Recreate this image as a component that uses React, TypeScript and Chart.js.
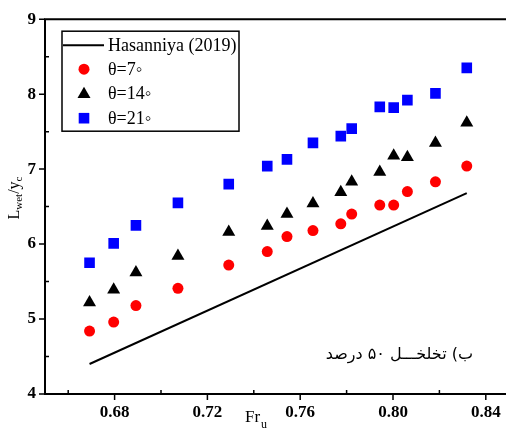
import React, { useEffect, useRef } from "react";
import { Chart, registerables } from "chart.js";

Chart.register(...registerables);

const frValues = [0.6692, 0.6796, 0.6892, 0.7073, 0.7292, 0.7458, 0.7543, 0.7655, 0.7775, 0.7822, 0.7943, 0.8003, 0.8062, 0.8183, 0.8318];
const theta7 = [4.84, 4.96, 5.18, 5.41, 5.72, 5.9, 6.1, 6.18, 6.27, 6.4, 6.52, 6.52, 6.7, 6.83, 7.04];
const theta14 = [5.22, 5.39, 5.62, 5.84, 6.16, 6.24, 6.4, 6.54, 6.69, 6.83, 6.96, 7.18, 7.16, 7.35, 7.62];
const theta21 = [5.75, 6.01, 6.25, 6.55, 6.8, 7.04, 7.13, 7.35, 7.44, 7.54, 7.83, 7.82, 7.92, 8.01, 8.35];
const hasanniyaX = [0.6692, 0.8318];
const hasanniyaY = [4.4, 6.68];
const xTickLabels = [0.68, 0.72, 0.76, 0.8, 0.84];
const xMinorTicks = [0.66, 0.7, 0.74, 0.78, 0.82];
const yTickLabels = [4, 5, 6, 7, 8, 9];
const yMinorTicks = [4.5, 5.5, 6.5, 7.5, 8.5];
const seriesNames = ["Hasanniya (2019)", "θ=7◦", "θ=14◦", "θ=21◦"];
const annotationText = "ب) تخلخـــل ۵۰ درصد";

const SERIF = "'Liberation Serif', 'Times New Roman', serif";
const RED = "#ff0000";
const BLUE = "#0000ff";
const BLACK = "#000000";

function drawMarker(ctx: CanvasRenderingContext2D, style: string, x: number, y: number, r: number, color: string) {
  ctx.save();
  ctx.fillStyle = color;
  ctx.beginPath();
  if (style === "circle") {
    ctx.arc(x, y, r, 0, Math.PI * 2);
  } else if (style === "triangle") {
    let rad = 0;
    const step = (Math.PI * 2) / 3;
    ctx.moveTo(x + Math.sin(rad) * r, y - Math.cos(rad) * r);
    rad += step;
    ctx.lineTo(x + Math.sin(rad) * r, y - Math.cos(rad) * r);
    rad += step;
    ctx.lineTo(x + Math.sin(rad) * r, y - Math.cos(rad) * r);
    ctx.closePath();
  } else {
    const s = r * Math.SQRT1_2;
    ctx.rect(x - s, y - s, 2 * s, 2 * s);
  }
  ctx.fill();
  ctx.restore();
}

const decorPlugin = {
  id: "decor",
  afterDraw(chart: any) {
    const ctx: CanvasRenderingContext2D = chart.ctx;
    const { left, right, top, bottom } = chart.chartArea;
    const xs = chart.scales.x;
    const ys = chart.scales.y;
    ctx.save();
    ctx.strokeStyle = BLACK;
    ctx.lineWidth = 2;
    ctx.lineCap = "butt";
    // axis lines
    ctx.beginPath();
    ctx.moveTo(left, top);
    ctx.lineTo(left, bottom);
    ctx.moveTo(left - 1, bottom);
    ctx.lineTo(right, bottom);
    ctx.moveTo(left - 1, top);
    ctx.lineTo(right, top);
    ctx.stroke();
    // ticks
    ctx.lineWidth = 1.5;
    ctx.beginPath();
    yTickLabels.forEach((v) => {
      const py = ys.getPixelForValue(v);
      ctx.moveTo(left - 6, py);
      ctx.lineTo(left, py);
    });
    yMinorTicks.forEach((v) => {
      const py = ys.getPixelForValue(v);
      ctx.moveTo(left, py);
      ctx.lineTo(left + 4, py);
    });
    xTickLabels.forEach((v) => {
      const px = xs.getPixelForValue(v);
      ctx.moveTo(px, bottom);
      ctx.lineTo(px, bottom + 6);
    });
    xMinorTicks.forEach((v) => {
      const px = xs.getPixelForValue(v);
      ctx.moveTo(px, bottom);
      ctx.lineTo(px, bottom - 4);
    });
    ctx.stroke();

    // legend
    const bx = left + 17;
    const by = top + 12;
    const bw = 177;
    const bh = 100;
    ctx.fillStyle = "#fff";
    ctx.fillRect(bx, by, bw, bh);
    ctx.lineWidth = 1.5;
    ctx.strokeRect(bx, by, bw, bh);
    const rows = [by + 14, by + 38, by + 62, by + 87];
    ctx.lineWidth = 2;
    ctx.beginPath();
    ctx.moveTo(bx + 1, rows[0]);
    ctx.lineTo(bx + 42, rows[0]);
    ctx.stroke();
    drawMarker(ctx, "circle", bx + 22, rows[1], 5.5, RED);
    drawMarker(ctx, "triangle", bx + 22, rows[2] + 1, 7.5, BLACK);
    drawMarker(ctx, "rect", bx + 22, rows[3], 7.5, BLUE);
    ctx.fillStyle = BLACK;
    ctx.font = `18px ${SERIF}`;
    ctx.textAlign = "left";
    ctx.textBaseline = "middle";
    seriesNames.forEach((n, i) => {
      ctx.fillText(n, bx + 46, rows[i] + 1);
    });

    // x title: Fr_u
    ctx.textBaseline = "alphabetic";
    ctx.textAlign = "left";
    ctx.font = `17px ${SERIF}`;
    ctx.fillText("Fr", 245, 422);
    const frW = ctx.measureText("Fr").width;
    ctx.font = `12px ${SERIF}`;
    ctx.fillText("u", 245 + frW + 1, 428);

    // y title: L_wet / y_c rotated
    ctx.save();
    ctx.translate(19, 198);
    ctx.rotate(-Math.PI / 2);
    const segs = [
      { t: "L", sub: false },
      { t: "wet", sub: true },
      { t: "/y", sub: false },
      { t: "c", sub: true },
    ];
    let total = 0;
    segs.forEach((s) => {
      ctx.font = s.sub ? `11px ${SERIF}` : `16px ${SERIF}`;
      total += ctx.measureText(s.t).width;
    });
    let cx = -total / 2;
    segs.forEach((s) => {
      ctx.font = s.sub ? `11px ${SERIF}` : `16px ${SERIF}`;
      ctx.fillText(s.t, cx, s.sub ? 3 : 0);
      cx += ctx.measureText(s.t).width;
    });
    ctx.restore();

    // annotation
    ctx.font = "16px 'DejaVu Sans', sans-serif";
    ctx.direction = "rtl";
    ctx.textAlign = "right";
    ctx.textBaseline = "alphabetic";
    ctx.fillText(annotationText, 473, 359);
    ctx.restore();
  },
};

export default function App() {
  const ref = useRef<HTMLCanvasElement | null>(null);
  useEffect(() => {
    if (!ref.current) return;
    const pts = (ys: number[]) => frValues.map((x, i) => ({ x, y: ys[i] }));
    const chart = new Chart(ref.current, {
      type: "scatter",
      data: {
        datasets: [
          {
            type: "line",
            label: seriesNames[0],
            data: hasanniyaX.map((x, i) => ({ x, y: hasanniyaY[i] })),
            borderColor: BLACK,
            borderWidth: 2,
            pointRadius: 0,
            fill: false,
          } as any,
          {
            label: seriesNames[1],
            data: pts(theta7),
            pointStyle: "circle",
            pointRadius: 5.5,
            backgroundColor: RED,
            borderWidth: 0,
          },
          {
            label: seriesNames[2],
            data: pts(theta14),
            pointStyle: "triangle",
            pointRadius: 7.5,
            backgroundColor: BLACK,
            borderWidth: 0,
          },
          {
            label: seriesNames[3],
            data: pts(theta21),
            pointStyle: "rect",
            pointRadius: 7.5,
            backgroundColor: BLUE,
            borderWidth: 0,
          },
        ],
      },
      options: {
        responsive: false,
        animation: false,
        layout: { padding: { top: 16, right: 11, left: 0, bottom: 0 } },
        plugins: { legend: { display: false }, tooltip: { enabled: false } },
        scales: {
          x: {
            type: "linear",
            min: 0.65,
            max: 0.85,
            afterFit: (s: any) => {
              s.height = 34;
            },
            afterBuildTicks: (s: any) => {
              s.ticks = xTickLabels.map((v) => ({ value: v }));
            },
            ticks: {
              font: { family: SERIF, size: 17, weight: "bold" },
              color: BLACK,
              padding: 8,
              maxRotation: 0,
              autoSkip: false,
              callback: (v: any) => Number(v).toFixed(2),
            },
            grid: { display: false, drawTicks: false },
            border: { display: false },
          },
          y: {
            min: 4,
            max: 9,
            afterFit: (s: any) => {
              s.width = 45;
            },
            afterBuildTicks: (s: any) => {
              s.ticks = yTickLabels.map((v) => ({ value: v }));
            },
            ticks: {
              font: { family: SERIF, size: 17, weight: "bold" },
              color: BLACK,
              padding: 9,
              callback: (v: any) => String(v),
            },
            grid: { display: false, drawTicks: false },
            border: { display: false },
          },
        },
      },
      plugins: [decorPlugin],
    });
    return () => chart.destroy();
  }, []);
  return (
    <div
      style={{
        position: "fixed",
        left: 0,
        top: 0,
        width: 506,
        height: 428,
        overflow: "hidden",
        background: "#fff",
      }}
    >
      <canvas ref={ref} width={520} height={428} style={{ display: "block" }} />
    </div>
  );
}
